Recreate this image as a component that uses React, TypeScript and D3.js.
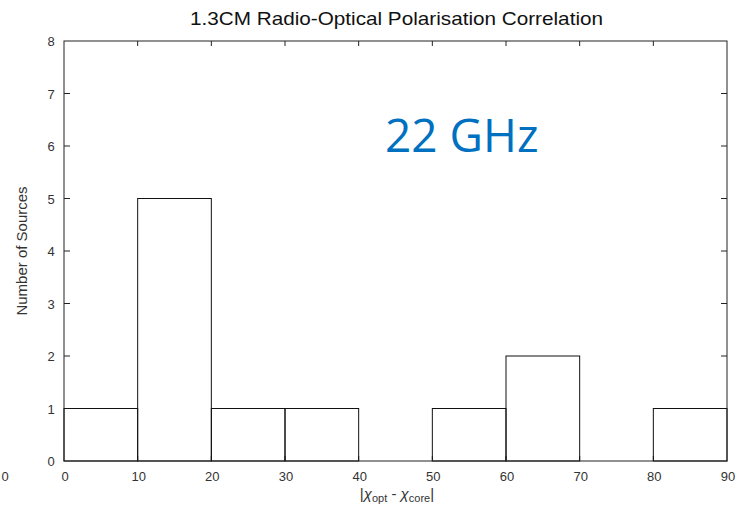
import React from "react";
import * as d3 from "d3";

const binStarts = [0, 10, 20, 30, 40, 50, 60, 70, 80];
const counts = [1, 5, 1, 1, 0, 1, 2, 0, 1];
const xTicks = [0, 10, 20, 30, 40, 50, 60, 70, 80, 90];
const yTicks = [0, 1, 2, 3, 4, 5, 6, 7, 8];
const binWidth = 10;

const W = 739, H = 510;
const L = 64, R = 727, T = 41, B = 461;

export default function App() {
  const x = d3.scaleLinear().domain([0, 90]).range([L, R]);
  const y = d3.scaleLinear().domain([0, 8]).range([B, T]);
  const font = "'Liberation Sans', Arial, sans-serif";
  return (
    <svg width={W} height={H} style={{ position: "absolute", left: 0, top: 0, background: "#fff" }}>
      <rect x={0} y={0} width={W} height={H} fill="#fff" />
      <text x={190} y={25} textLength={413} lengthAdjust="spacingAndGlyphs" fontFamily={font} fontSize={19} fill="#111">
        1.3CM Radio-Optical Polarisation Correlation
      </text>
      {xTicks.slice(1, -1).map((t) => (
        <g key={"xt" + t}>
          <line x1={x(t)} x2={x(t)} y1={T} y2={T + 5} stroke="#222" strokeWidth={1} />
          <line x1={x(t)} x2={x(t)} y1={B} y2={B - 5} stroke="#222" strokeWidth={1} />
        </g>
      ))}
      {yTicks.slice(1, -1).map((t) => (
        <g key={"yt" + t}>
          <line x1={L} x2={L + 6} y1={y(t)} y2={y(t)} stroke="#222" strokeWidth={1} />
          <line x1={R} x2={R - 6} y1={y(t)} y2={y(t)} stroke="#222" strokeWidth={1} />
        </g>
      ))}
      {binStarts.map((s, i) =>
        counts[i] > 0 ? (
          <rect
            key={"b" + i}
            x={x(s)}
            y={y(counts[i])}
            width={x(s + binWidth) - x(s)}
            height={y(0) - y(counts[i])}
            fill="none"
            stroke="#111"
            strokeWidth={1}
          />
        ) : null
      )}
      <rect x={L} y={T} width={R - L} height={B - T} fill="none" stroke="#222" strokeWidth={1} />
      {xTicks.map((t) => (
        <text key={"xl" + t} x={x(t) + 1} y={B + 20} textAnchor="middle" fontFamily={font} fontSize={13} fill="#333">
          {t}
        </text>
      ))}
      {yTicks.map((t) => (
        <text key={"yl" + t} x={L - 13} y={y(t) + 5} textAnchor="middle" fontFamily={font} fontSize={13} fill="#333">
          {t}
        </text>
      ))}
      <text x={5} y={B + 20} textAnchor="middle" fontFamily={font} fontSize={13} fill="#333">0</text>
      <text
        transform={`translate(27, ${(T + B) / 2}) rotate(-90)`}
        textAnchor="middle"
        fontFamily={font}
        fontSize={15}
        fill="#333"
      >
        Number of Sources
      </text>
      <text x={397} y={499} textAnchor="middle" fontFamily={font} fontSize={15} fill="#333">
        |<tspan fontStyle="italic">χ</tspan><tspan fontSize={11} dy={3}>opt</tspan>
        <tspan dy={-3}> - </tspan><tspan fontStyle="italic">χ</tspan>
        <tspan fontSize={11} dy={3}>core</tspan>
        <tspan dy={-3}>|</tspan>
      </text>
      <text x={385} y={152} fontFamily="'Open Sans', 'Noto Sans', sans-serif" fontSize={46} fill="#0070C0">
        22 GHz
      </text>
    </svg>
  );
}
